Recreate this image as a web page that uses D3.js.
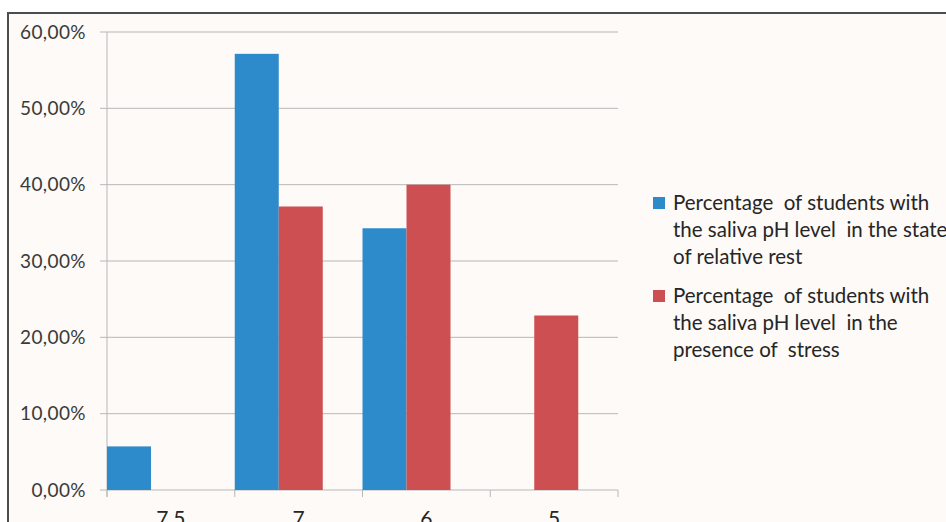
<!DOCTYPE html>
<html>
<head>
<meta charset="utf-8">
<script src="https://cdn.jsdelivr.net/npm/d3@7"></script>
<style>
  body { margin: 0; background: #fff; }
  svg { display: block; font-family: Lato, "Open Sans", sans-serif; }
</style>
</head>
<body>
<script>
// chart data
var categories = ["7,5", "7", "6", "5"];
var seriesNames = [
  ["Percentage  of students with", "the saliva pH level  in the state", "of relative rest"],
  ["Percentage  of students with", "the saliva pH level  in the", "presence of  stress"]
];
var restValues = [5.71, 57.14, 34.29, 0];
var stressValues = [0, 37.14, 40.0, 22.86];
var yTicks = [0, 10, 20, 30, 40, 50, 60];
var colors = ["#2e8bcb", "#cd4f52"];

var W = 946, H = 522;
var margin = { top: 32, left: 107 };
var plotW = 511, plotH = 458;

var svg = d3.select("body").append("svg")
  .attr("width", W)
  .attr("height", H);

// frame background + border
svg.append("rect")
  .attr("x", 8).attr("y", 13)
  .attr("width", W - 8).attr("height", H - 13)
  .attr("fill", "#fdfaf7");
svg.append("path")
  .attr("d", "M8," + (H) + "V13H" + W)
  .attr("fill", "none")
  .attr("stroke", "#4d4d4d")
  .attr("stroke-width", 2);

var g = svg.append("g")
  .attr("transform", "translate(" + margin.left + "," + margin.top + ")");

// scales
var x0 = d3.scaleBand().domain(categories).range([0, plotW]).padding(0);
var x1 = d3.scaleBand().domain([0, 1]).range([0, 88]).padding(0);
var y = d3.scaleLinear().domain([0, 60]).range([plotH, 0]);

// gridlines
g.selectAll(".grid")
  .data(yTicks)
  .enter().append("line")
  .attr("x1", -7).attr("x2", plotW)
  .attr("y1", function(d) { return y(d); })
  .attr("y2", function(d) { return y(d); })
  .attr("stroke", "#b8b8b8")
  .attr("stroke-width", 1);

// y axis line
g.append("line")
  .attr("x1", 0).attr("x2", 0)
  .attr("y1", 0).attr("y2", plotH + 7)
  .attr("stroke", "#b8b8b8");

// x ticks at band boundaries
var bounds = categories.map(function(c) { return x0(c); }).concat([plotW]);
g.selectAll(".xtick")
  .data(bounds)
  .enter().append("line")
  .attr("x1", function(d) { return d; })
  .attr("x2", function(d) { return d; })
  .attr("y1", plotH).attr("y2", plotH + 7)
  .attr("stroke", "#b8b8b8");

// y labels
g.selectAll(".ylab")
  .data(yTicks)
  .enter().append("text")
  .attr("x", -21)
  .attr("y", function(d) { return y(d); })
  .attr("dy", "0.35em")
  .attr("text-anchor", "end")
  .attr("font-size", 19)
  .attr("letter-spacing", 0.4)
  .attr("fill", "#3a3a3a")
  .text(function(d) { return d + ",00%"; });

// bars
var table = categories.map(function(c, i) {
  return { cat: c, vals: [restValues[i], stressValues[i]] };
});

var groups = g.selectAll(".grp")
  .data(table)
  .enter().append("g")
  .attr("transform", function(d) { return "translate(" + x0(d.cat) + ",0)"; });

groups.selectAll("rect")
  .data(function(d) { return d.vals.map(function(v, k) { return { k: k, v: v }; }); })
  .enter().append("rect")
  .attr("x", function(d) { return x1(d.k); })
  .attr("width", x1.bandwidth())
  .attr("y", function(d) { return y(d.v); })
  .attr("height", function(d) { return plotH - y(d.v); })
  .attr("fill", function(d) { return colors[d.k]; });

// x labels (cut at the bottom edge, as in the source)
g.selectAll(".xlab")
  .data(categories)
  .enter().append("text")
  .attr("x", function(d) { return x0(d) + x0.bandwidth() / 2; })
  .attr("y", plotH + 36)
  .attr("text-anchor", "middle")
  .attr("font-size", 21)
  .attr("fill", "#262626")
  .text(function(d) { return d; });

// legend
var legend = svg.append("g").attr("transform", "translate(653,0)");
var legendTop = [197, 290];
seriesNames.forEach(function(lines, k) {
  legend.append("rect")
    .attr("x", 0).attr("y", legendTop[k])
    .attr("width", 12).attr("height", 12)
    .attr("fill", colors[k]);
  legend.selectAll(".lt" + k)
    .data(lines)
    .enter().append("text")
    .attr("x", 20)
    .attr("y", function(d, i) { return legendTop[k] + 13 + i * 27; })
    .attr("font-size", 20.5)
    .attr("fill", "#262626")
    .style("white-space", "pre")
    .text(function(d) { return d; });
});
</script>
</body>
</html>
